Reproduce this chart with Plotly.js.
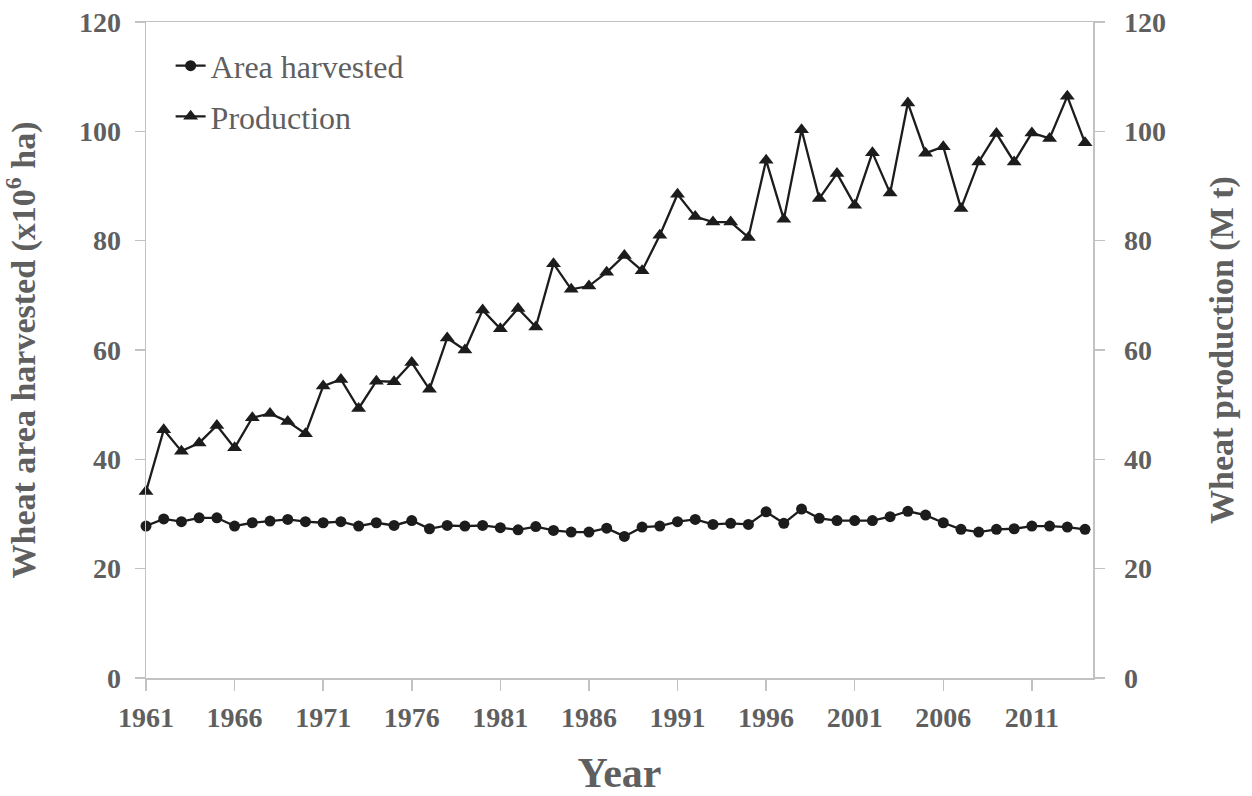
<!DOCTYPE html>
<html>
<head>
<meta charset="utf-8">
<script src="https://cdn.plot.ly/plotly-3.0.1.min.js"></script>
<style>html,body{margin:0;padding:0;background:#fff;}#chart{width:1252px;height:796px;}</style>
</head>
<body>
<div id="chart"></div>
<script>
const years = [];
for (let y = 1961; y <= 2014; y++) years.push(y);

const areaHarvested = [
  27.8, 29.1, 28.6, 29.3, 29.3, 27.8, 28.4, 28.7, 29.0, 28.6,
  28.4, 28.6, 27.8, 28.4, 27.9, 28.8, 27.3, 27.9, 27.8, 27.9,
  27.5, 27.1, 27.7, 27.0, 26.7, 26.7, 27.4, 25.9, 27.6, 27.8,
  28.6, 29.0, 28.1, 28.3, 28.1, 30.4, 28.3, 30.9, 29.2, 28.8,
  28.8, 28.8, 29.5, 30.5, 29.8, 28.4, 27.2, 26.7, 27.2, 27.3,
  27.8, 27.8, 27.6, 27.2
];

const production = [
  34.1, 45.4, 41.5, 43.0, 46.2, 42.1, 47.6, 48.4, 46.9, 44.7,
  53.4, 54.6, 49.3, 54.3, 54.2, 57.7, 52.8, 62.2, 60.0, 67.3,
  63.9, 67.6, 64.2, 75.8, 71.1, 71.7, 74.2, 77.3, 74.5, 81.0,
  88.5, 84.4, 83.4, 83.4, 80.6, 94.7, 83.9, 100.3, 87.7, 92.3,
  86.5, 96.1, 88.7, 105.2, 96.0, 97.2, 85.9, 94.4, 99.6, 94.4,
  99.7, 98.7, 106.4, 97.9
];

const xTickYears = [1961, 1966, 1971, 1976, 1981, 1986, 1991, 1996, 2001, 2006, 2011];
const yTicks = [0, 20, 40, 60, 80, 100, 120];

const FONT = 'Liberation Serif, Times New Roman, serif';
const GREY_TXT = '#5f5f5f';
const AXIS_GREY = '#c2c2c2';
const LINE = '#1c1c1c';

const traces = [
  {
    x: years, y: areaHarvested, name: 'Area harvested', type: 'scatter', mode: 'lines+markers',
    line: {color: LINE, width: 2.3}, marker: {symbol: 'circle', size: 11, color: LINE},
    legendgroup: 'a', yaxis: 'y', cliponaxis: false
  },
  {
    x: years, y: production, name: 'Production', type: 'scatter', mode: 'lines+markers',
    line: {color: LINE, width: 2.3}, marker: {symbol: 'triangle-up', size: 13, color: LINE},
    legendgroup: 'b', yaxis: 'y2', cliponaxis: false
  }
];

const tickFont = {family: FONT, size: 28, color: GREY_TXT, weight: 'bold'};
const titleFont = {family: FONT, size: 34, color: GREY_TXT, weight: 'bold'};

const layout = {
  width: 1252, height: 796,
  paper_bgcolor: '#fff', plot_bgcolor: '#fff',
  margin: {l: 146, r: 159, t: 22, b: 118},
  showlegend: true,
  legend: {
    x: 0.026, y: 0.975, xanchor: 'left', yanchor: 'top',
    font: {family: FONT, size: 32, color: GREY_TXT},
    bgcolor: 'rgba(0,0,0,0)', tracegroupgap: 6
  },
  xaxis: {
    range: [1961, 2014.45], tickvals: xTickYears, ticktext: xTickYears.map(String),
    showgrid: false, zeroline: false, showline: true, linecolor: AXIS_GREY, linewidth: 1.5, mirror: true,
    ticks: 'outside', ticklen: 11, tickcolor: AXIS_GREY, tickwidth: 1.5,
    tickfont: tickFont, ticklabelstandoff: 3,
    title: {text: 'Year', font: {family: FONT, size: 42, color: GREY_TXT, weight: 'bold'}, standoff: 34}
  },
  yaxis: {
    range: [0, 120], tickvals: yTicks,
    showgrid: false, zeroline: false, showline: true, linecolor: AXIS_GREY, linewidth: 1.5,
    ticks: 'outside', ticklen: 10, tickcolor: AXIS_GREY, tickwidth: 1.5,
    tickfont: tickFont, ticklabelstandoff: 8,
    title: {text: 'Wheat area harvested (x10<sup>6</sup> ha)', font: titleFont, standoff: 34}
  },
  yaxis2: {
    range: [0, 120], tickvals: yTicks, overlaying: 'y', side: 'right',
    showgrid: false, zeroline: false, showline: true, linecolor: AXIS_GREY, linewidth: 1.5,
    ticks: 'outside', ticklen: 10, tickcolor: AXIS_GREY, tickwidth: 1.5,
    tickfont: tickFont, ticklabelstandoff: 14,
    title: {text: 'Wheat production (M t)', font: titleFont, standoff: 44}
  }
};

Plotly.newPlot('chart', traces, layout, {displayModeBar: false, staticPlot: true});
</script>
</body>
</html>
